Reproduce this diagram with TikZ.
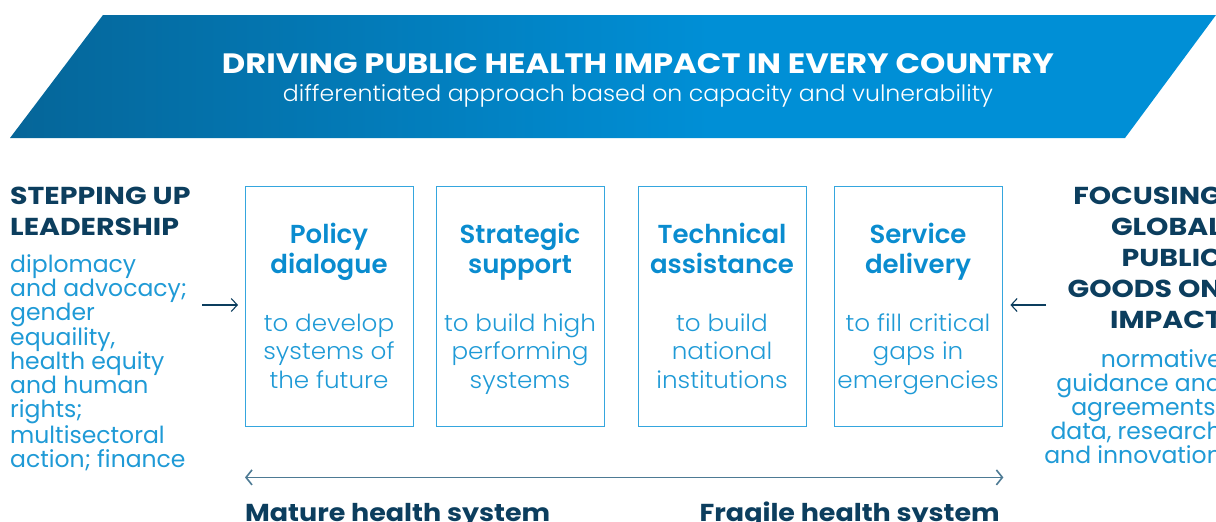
\documentclass[tikz,border=0pt]{standalone}
\usepackage{fontspec}
\setmainfont{Poppins}[BoldFont={Poppins SemiBold}]
\newfontfamily\lightf{Poppins Light}
\newfontfamily\headf{Poppins Bold}[FakeStretch=1.1]
\newfontfamily\headfs{Poppins Bold}[FakeStretch=1.16]
\newfontfamily\headfw{Poppins Bold}[FakeStretch=1.15]
\newfontfamily\lightfw{Poppins Light}[FakeStretch=1.05]
\usetikzlibrary{arrows.meta}
\definecolor{navy}{HTML}{0C3E5E}
\definecolor{bannerdark}{HTML}{0A466A}
\definecolor{bannerblue}{HTML}{008FD6}
\definecolor{titleblue}{HTML}{0A8CCF}
\definecolor{textblue}{HTML}{1F9AD6}
\definecolor{boxblue}{HTML}{35A6DE}
\definecolor{scale}{HTML}{4D7A94}
\pgfdeclarehorizontalshading{bannershade}{100bp}{color(0bp)=(bannerdark); color(3bp)=(bannerdark); color(54bp)=(bannerblue); color(100bp)=(bannerblue)}
\tikzset{
  panel/.style={draw=boxblue, line width=1.4pt, minimum width=168pt, minimum height=240pt, anchor=north west},
  boxtitle/.style={font=\bfseries\fontsize{26}{30}\selectfont, text=titleblue, align=center, anchor=base},
  boxsub/.style={font=\lightfw\fontsize{23.5}{28.5}\selectfont, text=textblue, align=center, anchor=base},
  headl/.style={font=\headfs\fontsize{24.5}{31}\selectfont, text=navy, anchor=base west, align=left, inner sep=0pt},
  headr/.style={font=\headfs\fontsize{24.5}{31}\selectfont, text=navy, anchor=base east, align=right, inner sep=0pt},
  bodyl/.style={font=\fontsize{23.5}{24}\selectfont, text=textblue, anchor=base west, align=left, inner sep=0pt},
  bodyr/.style={font=\fontsize{23.5}{24}\selectfont, text=textblue, anchor=base east, align=right, inner sep=0pt},
  scalelab/.style={font=\headf\fontsize{24.5}{30}\selectfont, text=navy, inner sep=0pt},
  sidearrow/.style={draw=navy, line width=1.1pt, -{Straight Barb[length=6pt,width=13pt]}},
  scalearrow/.style={draw=scale, line width=1.6pt, {Straight Barb[length=6pt,width=15pt]}-{Straight Barb[length=6pt,width=15pt]}}
}
\begin{document}
\begin{tikzpicture}[x=1pt,y=-1pt]
\useasboundingbox (0,0) rectangle (1216,522);
% banner
\shade[shading=bannershade] (103,15) -- (1216,15) -- (1125,138) -- (10,138) -- cycle;
\node[font=\headfw\fontsize{28}{30}\selectfont, text=white, anchor=base, inner sep=0pt] (btitle) at (638,73) {DRIVING PUBLIC HEALTH IMPACT IN EVERY COUNTRY};
\node[font=\lightfw\fontsize{22.5}{26}\selectfont, text=white, anchor=base, inner sep=0pt] (bsub) at (638,101) {differentiated approach based on capacity and vulnerability};
% boxes
\node[panel] (b1) at (245,186) {};
\node[panel] (b2) at (436,186) {};
\node[panel] (b3) at (638,186) {};
\node[panel] (b4) at (834,186) {};
\node[boxtitle] (t1) at (329,273) {Policy\\dialogue};
\node[boxtitle] (t2) at (520,273) {Strategic\\support};
\node[boxtitle] (t3) at (722,273) {Technical\\assistance};
\node[boxtitle] (t4) at (918,273) {Service\\delivery};
\node[boxsub] (s1) at (329,388) {to develop\\systems of\\the future};
\node[boxsub] (s2) at (520,388) {to build high\\performing\\systems};
\node[boxsub] (s3) at (722,388) {to build\\national\\institutions};
\node[boxsub] (s4) at (918,388) {to fill critical\\gaps in\\emergencies};
% left side
\node[headl] (lh) at (10,235) {STEPPING UP\\LEADERSHIP};
\node[bodyl] (lb) at (10,467) {diplomacy\\and advocacy;\\gender\\equaility,\\health equity\\and human\\rights;\\multisectoral\\action; finance};
% right side
\node[headr] (rh) at (1222,328) {FOCUSING\\GLOBAL\\PUBLIC\\GOODS ON\\IMPACT};
\node[bodyr] (rb) at (1222,463) {normative\\guidance and\\agreements;\\data, research\\and innovation};
% side arrows
\coordinate (la) at (202,305);
\coordinate (ra) at (1046,305);
\draw[sidearrow] (la) -- ([xshift=-7pt]b1.west |- la);
\draw[sidearrow] (ra) -- ([xshift=7pt]b4.east |- ra);
% scale
\draw[scalearrow] ([yshift=-50pt]b1.south west) -- ([yshift=-50pt]b4.south east);
\node[scalelab, anchor=base west] (mature) at (245,521) {Mature health system};
\node[scalelab, anchor=base east] (fragile) at (1000,521) {Fragile health system};
\end{tikzpicture}
\end{document}
